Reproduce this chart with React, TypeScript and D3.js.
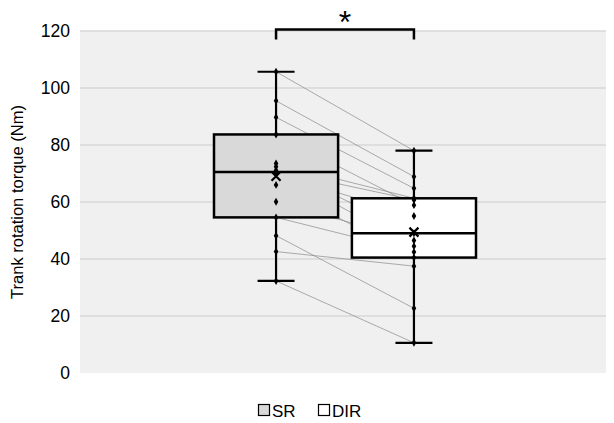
import React, { useEffect, useRef } from 'react';
import * as d3 from 'd3';

// paired measurements, same subject order in both arrays
const series = ['SR', 'DIR'];
const srValues = [105.7, 95.5, 89.7, 83.7, 73.5, 72.4, 71.1, 70.5, 69.9, 66, 60.1, 54.6, 48.2, 42.6, 32.3];
const dirValues = [78, 68.9, 64.8, 58.9, 61.3, 49, 60.7, 44.5, 55.1, 40.5, 46.5, 42.5, 22.7, 37.5, 10.6];
const seriesFill = ['#d9d9d9', '#ffffff'];
const yTicks = [0, 20, 40, 60, 80, 100, 120];

// Excel style exclusive quartile
function quartile(sorted: number[], p: number) {
  const n = sorted.length;
  const pos = p * (n + 1);
  const lo = Math.floor(pos);
  const frac = pos - lo;
  if (lo < 1) return sorted[0];
  if (lo >= n) return sorted[n - 1];
  return sorted[lo - 1] + frac * (sorted[lo] - sorted[lo - 1]);
}

function App() {
  const svgRef = useRef<SVGSVGElement>(null);

  useEffect(() => {
    const width = 614;
    const height = 423;
    const plot = { left: 80, right: 606, top: 31, bottom: 373 };

    const svg = d3.select(svgRef.current)
      .attr('width', width)
      .attr('height', height);
    svg.selectAll('*').remove();

    const font = 'Liberation Sans, Arial, sans-serif';

    const y = d3.scaleLinear().domain([0, 120]).range([plot.bottom, plot.top]);
    const x = d3.scaleBand().domain(series).range([214, 476]).paddingInner(0.1);
    const cx = (s: string) => (x(s) as number) + x.bandwidth() / 2;

    // plot background
    svg.append('rect')
      .attr('x', plot.left)
      .attr('y', plot.top)
      .attr('width', plot.right - plot.left)
      .attr('height', plot.bottom - plot.top)
      .attr('fill', '#f0f0f0');

    // gridlines
    svg.append('g')
      .selectAll('line')
      .data(yTicks.filter(d => d > 0))
      .enter()
      .append('line')
      .attr('x1', plot.left)
      .attr('x2', plot.right)
      .attr('y1', d => y(d))
      .attr('y2', d => y(d))
      .attr('stroke', '#d9d9d9')
      .attr('stroke-width', 1.5);

    // y axis labels
    svg.append('g')
      .selectAll('text')
      .data(yTicks)
      .enter()
      .append('text')
      .attr('x', 70)
      .attr('y', d => y(d) + 6)
      .attr('text-anchor', 'end')
      .attr('font-family', font)
      .attr('font-size', '17.5px')
      .attr('fill', '#000')
      .text(d => d);

    svg.append('text')
      .attr('transform', `translate(23,${(plot.top + plot.bottom) / 2}) rotate(-90)`)
      .attr('text-anchor', 'middle')
      .attr('font-family', font)
      .attr('font-size', '16.5px')
      .text('Trank rotation torque (Nm)');

    const groups = [srValues, dirValues];

    // connecting lines between pairs
    svg.append('g')
      .selectAll('line')
      .data(srValues.map((v, i) => [v, dirValues[i]]))
      .enter()
      .append('line')
      .attr('x1', cx('SR'))
      .attr('x2', cx('DIR'))
      .attr('y1', d => y(d[0]))
      .attr('y2', d => y(d[1]))
      .attr('stroke', '#8a8a8a')
      .attr('stroke-width', 0.7);

    const capW = 37;
    groups.forEach((vals, gi) => {
      const s = series[gi];
      const sorted = [...vals].sort((a, b) => a - b);
      const q1 = quartile(sorted, 0.25);
      const med = quartile(sorted, 0.5);
      const q3 = quartile(sorted, 0.75);
      const lo = sorted[0];
      const hi = sorted[sorted.length - 1];
      const mean = d3.mean(vals) as number;
      const c = cx(s);
      const g = svg.append('g');

      // whiskers
      [[lo, q1], [q3, hi]].forEach(([a, b]) => {
        g.append('line')
          .attr('x1', c).attr('x2', c)
          .attr('y1', y(a)).attr('y2', y(b))
          .attr('stroke', '#000').attr('stroke-width', 2.2);
      });
      [lo, hi].forEach(v => {
        g.append('line')
          .attr('x1', c - capW / 2).attr('x2', c + capW / 2)
          .attr('y1', y(v)).attr('y2', y(v))
          .attr('stroke', '#000').attr('stroke-width', 2.2);
      });

      // box
      g.append('rect')
        .attr('x', x(s) as number)
        .attr('y', y(q3))
        .attr('width', x.bandwidth())
        .attr('height', y(q1) - y(q3))
        .attr('fill', seriesFill[gi])
        .attr('stroke', '#000')
        .attr('stroke-width', 2.5);
      g.append('line')
        .attr('x1', x(s) as number)
        .attr('x2', (x(s) as number) + x.bandwidth())
        .attr('y1', y(med)).attr('y2', y(med))
        .attr('stroke', '#000').attr('stroke-width', 2.5);

      // inner points as small diamonds
      g.selectAll('.pt')
        .data(vals)
        .enter()
        .append('path')
        .attr('d', d3.symbol(d3.symbolDiamond, 18)())
        .attr('transform', d => `translate(${c},${y(d)})`)
        .attr('fill', '#000');

      // mean marker (x)
      const m = 4.5;
      g.append('path')
        .attr('d', `M${c - m},${y(mean) - m}L${c + m},${y(mean) + m}M${c + m},${y(mean) - m}L${c - m},${y(mean) + m}`)
        .attr('stroke', '#000')
        .attr('stroke-width', 2.2);
    });

    // significance bracket
    const by = 29.5;
    svg.append('path')
      .attr('d', `M${cx('SR')},${by + 10}V${by}H${cx('DIR')}V${by + 10}`)
      .attr('fill', 'none')
      .attr('stroke', '#000')
      .attr('stroke-width', 2.5);
    svg.append('text')
      .attr('x', (cx('SR') + cx('DIR')) / 2)
      .attr('y', 33)
      .attr('text-anchor', 'middle')
      .attr('font-family', font)
      .attr('font-size', '32px')
      .text('*');

    // legend
    const legend = svg.append('g').attr('transform', 'translate(258,404)');
    const legendX = [0, 60];
    series.forEach((s, i) => {
      legend.append('rect')
        .attr('x', legendX[i] + 0.5)
        .attr('y', 0.5)
        .attr('width', 11)
        .attr('height', 11)
        .attr('fill', seriesFill[i])
        .attr('stroke', '#000')
        .attr('stroke-width', 1.2);
      legend.append('text')
        .attr('x', legendX[i] + 14)
        .attr('y', 12.5)
        .attr('font-family', font)
        .attr('font-size', '17px')
        .text(s);
    });
  }, []);

  return <svg ref={svgRef} style={{ position: 'absolute', left: 0, top: 0 }}></svg>;
}

export default App;
